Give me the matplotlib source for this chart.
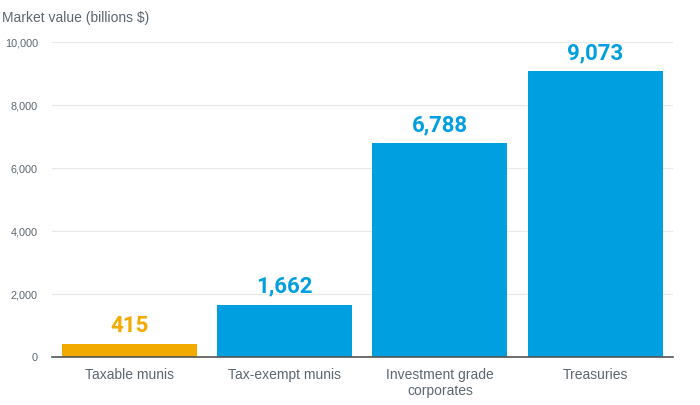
import matplotlib.pyplot as plt

categories = ["Taxable munis", "Tax-exempt munis", "Investment grade\ncorporates", "Treasuries"]
values = [415, 1662, 6788, 9073]
colors = ["#F2A900", "#009FDF", "#009FDF", "#009FDF"]
yticks = [0, 2000, 4000, 6000, 8000, 10000]

plt.rcParams['font.family'] = ['Liberation Sans', 'DejaVu Sans']
txt = "#5B6670"

fig = plt.figure(figsize=(7, 4.05), dpi=100)
ax = fig.add_axes([0.074, 0.1185, 0.887, 0.7775])

x = range(len(values))
ax.bar(x, values, width=0.87, color=colors, zorder=2)
for i, v in enumerate(values):
    ax.text(i, v + 220, f"{v:,}", ha="center", va="bottom", fontsize=16,
            fontweight="bold", color=colors[i], family=["Roboto", "DejaVu Sans"])

ax.set_xlim(-0.5, len(values) - 0.5)
ax.set_ylim(0, 10000)
ax.set_yticks(yticks)
ax.set_yticklabels([f"{t:,}" for t in yticks])
ax.set_xticks(list(x))
ax.set_xticklabels(categories)
ax.grid(axis="y", color="#E6E8EA", linewidth=0.8, zorder=0)
for s in ["top", "right", "left"]:
    ax.spines[s].set_visible(False)
ax.spines["bottom"].set_color("#555555")
ax.spines["bottom"].set_linewidth(1.2)
ax.spines["bottom"].set_zorder(3)
ax.tick_params(axis="y", length=0, labelsize=7.8, colors=txt, pad=10)
ax.tick_params(axis="x", length=0, labelsize=10, colors=txt, pad=8)

fig.text(0.003, 0.955, "Market value (billions $)", fontsize=10, color=txt,
         ha="left", va="center")

fig.savefig("out.png", dpi=100)
